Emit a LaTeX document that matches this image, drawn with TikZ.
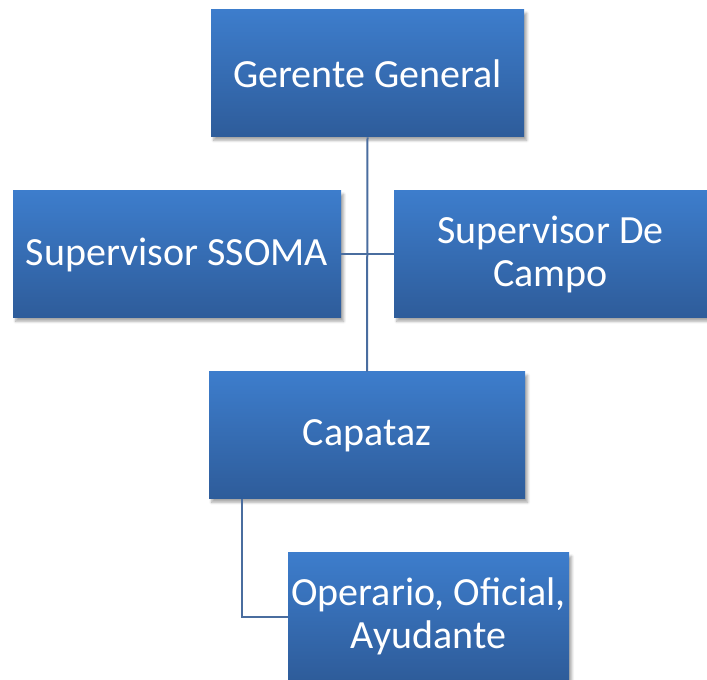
\documentclass[tikz,border=0pt]{standalone}
\usepackage{fontspec}
\setmainfont{Carlito}
\usetikzlibrary{shadows.blur}
\definecolor{boxtop}{HTML}{3D7DCC}
\definecolor{boxbottom}{HTML}{2E5C9A}
\definecolor{linkblue}{HTML}{4A6D9F}
\tikzset{
	orgbox/.style={rectangle, top color=boxtop, bottom color=boxbottom, draw=none,
		text=white, align=center, inner sep=2pt, minimum height=95.25pt,
		font=\fontsize{30}{32}\selectfont,
		blur shadow={shadow xshift=2pt, shadow yshift=-2.5pt, shadow blur steps=6, shadow opacity=35}},
	link/.style={draw=linkblue, line width=1.5pt}
}
\begin{document}
\begin{tikzpicture}[x=0.75pt,y=-0.75pt]
	\useasboundingbox (0,0) rectangle (707,680);
	\node (G) at (367.5, 73.5)	[orgbox, minimum width=234.75pt]	{Gerente General};
	\node (S) at (177, 254.5)	[orgbox, minimum width=246pt]	{Supervisor SSOMA};
	\node (C) at (550.5, 254.5)	[orgbox, minimum width=234.75pt]	{Supervisor De\\Campo};
	\node (K) at (367, 435.5)	[orgbox, minimum width=237pt]	{Capataz};
	\node (O) at (428.5, 616.5)	[orgbox, minimum width=210.75pt]	{Operario, Oficial,\\Ayudante};
	\draw[link] (G.south) -- (K.north);
	\draw[link] (S.east) -- (C.west);
	\draw[link] ([xshift=24.75pt]K.south west) |- (O.west);
\end{tikzpicture}
\end{document}
